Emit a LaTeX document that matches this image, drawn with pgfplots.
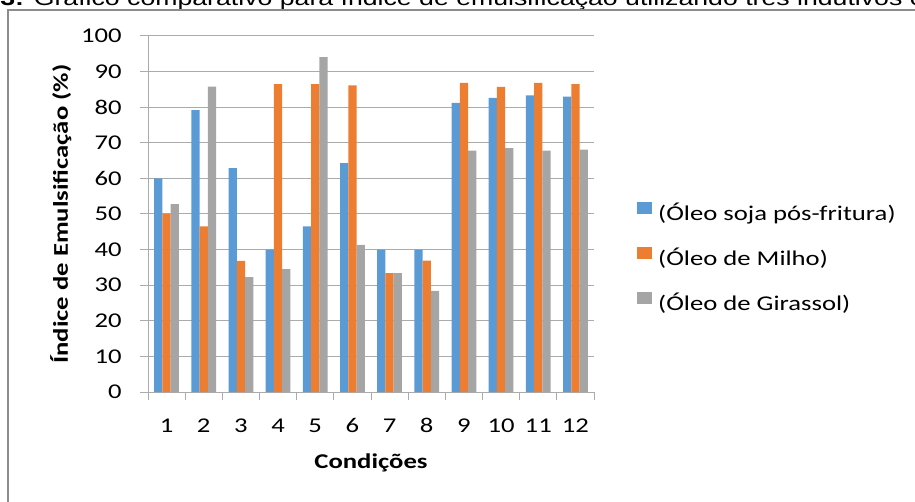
\documentclass[border=0pt]{standalone}
\usepackage{pgfplots}
\pgfplotsset{compat=1.18}
\usepackage{fontspec}
\setmainfont{Carlito}[FakeStretch=1.27]
\newfontfamily\capfont{Liberation Sans}[FakeStretch=1.27]
\newcommand\chartfont{\fontsize{15.75pt}{19pt}\selectfont}

\definecolor{soja}{HTML}{5B9BD5}
\definecolor{milho}{HTML}{ED7D31}
\definecolor{girassol}{HTML}{A5A5A5}
\definecolor{gridc}{HTML}{ABABAB}
\definecolor{framec}{HTML}{8C8C8C}

% Índice de emulsificação (%) por condição
\pgfplotstableread{
cond soja milho girassol
1  60.0 50.0 52.8
2  79.2 46.5 85.8
3  62.9 36.8 32.3
4  40.0 86.5 34.5
5  46.5 86.5 94.1
6  64.3 86.1 41.3
7  40.0 33.4 33.4
8  40.0 36.9 28.4
9  81.2 86.8 67.8
10 82.6 85.7 68.5
11 83.3 86.8 67.8
12 83.0 86.5 68.1
}\emulsao

\begin{document}
\begin{tikzpicture}
\useasboundingbox (0pt,0pt) rectangle (686.25pt,-376.5pt);
\clip (0pt,0pt) rectangle (686.25pt,-376.5pt);

% legenda da figura (parte superior)
\node[anchor=base west, inner sep=0pt] at (0pt,-4.5pt)
  {\capfont\chartfont\bfseries 3:\mdseries{} Gráfico comparativo para índice de emulsificação utilizando três indutivos e emulsão};

% moldura do gráfico
\draw[framec, line width=0.9pt] (6pt,-380pt) -- (6pt,-7.5pt) -- (690pt,-7.5pt);

\begin{axis}[
  at={(111pt,-294pt)}, anchor=south west,
  scale only axis, width=334.5pt, height=267pt,
  xmin=0.5, xmax=12.5, ymin=0, ymax=100,
  axis x line=bottom, axis y line=left,
  axis line style={-, draw=gridc, line width=0.75pt},
  tick align=outside,
  major tick length=6pt,
  tick style={draw=gridc, line width=0.75pt},
  ytick={0,10,...,100},
  ymajorgrids, grid style={draw=gridc, line width=0.75pt},
  xtick={0.5,1.5,...,12.5}, xticklabels={},
  extra x ticks={1,2,...,12},
  extra x tick style={major tick length=0pt, xticklabel style={anchor=base, yshift=-30pt, inner sep=0pt}},
  extra x tick labels={1,2,3,4,5,6,7,8,9,10,11,12},
  yticklabel style={anchor=east, inner sep=0pt, xshift=-13.5pt},
  tick label style={font=\chartfont},
  /pgf/number format/assume math mode=true,
  xlabel={\textbf{Condições}},
  xlabel style={at={(axis description cs:0.5,-0.2135)}, anchor=base, font=\chartfont, inner sep=0pt},
  ylabel={\textbf{Índice de Emulsificação (\%)}},
  ylabel style={at={(axis description cs:-0.1794,0.5)}, anchor=base, font=\chartfont, inner sep=0pt},
  ybar=0pt, bar width=6.2pt,
  legend cell align=left,
  legend image code/.code={\fill[#1] (0pt,1.3pt) rectangle (11.2pt,10pt);},
  legend style={at={(axis description cs:1.0964,0.534)}, anchor=north west,
    draw=none, fill=none, inner sep=0pt, font=\chartfont,
    row sep=16.2pt,
    nodes={inner sep=0pt, text height=11pt, text depth=4pt},
    /tikz/every odd column/.append style={column sep=4.5pt}},
]
\addplot[draw=none, fill=soja] table[x=cond, y=soja] {\emulsao};
\addplot[draw=none, fill=milho] table[x=cond, y=milho] {\emulsao};
\addplot[draw=none, fill=girassol] table[x=cond, y=girassol] {\emulsao};
\legend{(Óleo soja pós-fritura),(Óleo de Milho),(Óleo de Girassol)}
\end{axis}
\end{tikzpicture}
\end{document}
